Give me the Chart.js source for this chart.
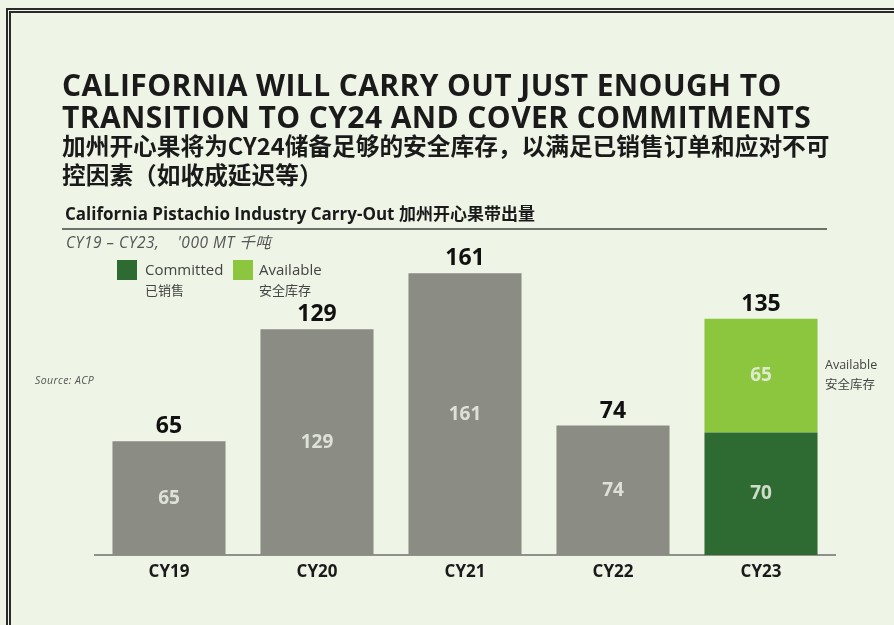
<!DOCTYPE html>
<html>
<head>
<meta charset="utf-8">
<script src="https://cdn.jsdelivr.net/npm/chart.js@4.4.1/dist/chart.umd.min.js"></script>
<style>
  html, body { margin: 0; padding: 0; }
  body { width: 894px; height: 625px; overflow: hidden; background: #eef4e6; position: relative; font-family: "Open Sans", "Noto Sans CJK SC", sans-serif; color: #1a1a1a; }
  .frame { position: absolute; left: 6px; top: 8px; width: 1000px; height: 800px; border-left: 5px double #2a2a2a; border-top: 5px double #2a2a2a; }
  .t { position: absolute; white-space: nowrap; line-height: 1; }
  .title { font-weight: 700; font-size: 30px; letter-spacing: 0.4px; left: 62px; }
  .zh { font-family: "Noto Sans CJK SC", sans-serif; font-weight: 700; font-size: 23.7px; left: 62px; }
  .sub { left: 65px; top: 204px; font-size: 17px; font-weight: 700; }
  .sub span { font-family: "Noto Sans CJK SC", sans-serif; }
  .rule { position: absolute; left: 62px; top: 228px; width: 765px; height: 2px; background: #6f716b; }
  .unit { left: 66px; top: 235px; font-size: 15.5px; letter-spacing: 0.5px; font-style: italic; color: #555; }
  .sw { position: absolute; width: 20px; height: 20px; top: 260px; }
  .leg { font-size: 15px; color: #444; line-height: 20px; }
  .leg .zh2 { font-family: "Noto Sans CJK SC", sans-serif; font-size: 13px; }
  .src { left: 35px; top: 375px; font-size: 10.5px; letter-spacing: 0.4px; font-style: italic; color: #555; }
  .note { left: 825px; top: 355px; font-size: 12.5px; color: #444; line-height: 19px; }
  canvas { position: absolute; left: 0; top: 0; }
</style>
</head>
<body>
<div class="frame"></div>
<canvas id="myChart" width="894" height="625"></canvas>

<div class="t title" style="top:70px">CALIFORNIA WILL CARRY OUT JUST ENOUGH TO</div>
<div class="t title" style="top:102px">TRANSITION TO CY24 AND COVER COMMITMENTS</div>
<div class="t zh" style="top:134px">加州开心果将为CY24储备足够的安全库存，以满足已销售订单和应对不可</div>
<div class="t zh" style="top:163px">控因素（如收成延迟等）</div>
<div class="t sub">California Pistachio Industry Carry-Out <span>加州开心果带出量</span></div>
<div class="rule"></div>
<div class="t unit">CY19 – CY23,&nbsp;&nbsp;&nbsp;&nbsp;'000 MT 千吨</div>

<div class="sw" style="left:117px; background:#2e6b32"></div>
<div class="t leg" style="left:145px; top:259px">Committed<br><span class="zh2">已销售</span></div>
<div class="sw" style="left:233px; background:#8cc63f"></div>
<div class="t leg" style="left:259px; top:259px">Available<br><span class="zh2">安全库存</span></div>

<div class="t src">Source: ACP</div>
<div class="t note">Available<br><span style="font-family:'Noto Sans CJK SC'">安全库存</span></div>

<script>
// chart data
const years = ['CY19', 'CY20', 'CY21', 'CY22', 'CY23'];
const carryOut = [65, 129, 161, 74, null];
const committed = [null, null, null, null, 70];
const available = [null, null, null, null, 65];

const grayBar = '#8b8d85';
const darkGreen = '#2e6b32';
const lightGreen = '#8cc63f';

// draws the white numbers inside bars and the totals on top
const barLabels = {
    id: 'barLabels',
    afterDatasetsDraw(chart) {
        const ctx = chart.ctx;
        ctx.save();
        ctx.textAlign = 'center';
        let tops = [];
        chart.data.datasets.forEach((ds, i) => {
            const meta = chart.getDatasetMeta(i);
            meta.data.forEach((bar, j) => {
                const v = ds.data[j];
                if (v == null) return;
                ctx.font = 'bold 19px "Open Sans"';
                ctx.fillStyle = 'rgba(236, 240, 230, 0.85)';
                ctx.textBaseline = 'middle';
                ctx.fillText(v, bar.x, (bar.y + bar.base) / 2);
                if (tops[j] == null || bar.y < tops[j].y) tops[j] = { x: bar.x, y: bar.y };
            });
        });
        years.forEach((y, j) => {
            const total = (carryOut[j] || 0) + (committed[j] || 0) + (available[j] || 0);
            ctx.font = 'bold 23px "Open Sans"';
            ctx.fillStyle = '#111';
            ctx.textBaseline = 'alphabetic';
            ctx.fillText(total, tops[j].x, tops[j].y - 8);
        });
        ctx.restore();
    }
};

const ctx = document.getElementById('myChart').getContext('2d');
const myChart = new Chart(ctx, {
    type: 'bar',
    data: {
        labels: years,
        datasets: [
            { label: 'Carry-Out', data: carryOut, backgroundColor: grayBar },
            { label: 'Committed 已销售', data: committed, backgroundColor: darkGreen },
            { label: 'Available 安全库存', data: available, backgroundColor: lightGreen }
        ]
    },
    options: {
        responsive: false,
        animation: false,
        devicePixelRatio: 1,
        layout: { padding: { left: 95, right: 59, top: 240, bottom: 0 } },
        datasets: { bar: { categoryPercentage: 1, barPercentage: 0.764 } },
        plugins: { legend: { display: false }, tooltip: { enabled: false } },
        scales: {
            x: {
                stacked: true,
                grid: { display: false, drawTicks: false },
                border: { display: true, color: '#8f918b', width: 2 },
                ticks: { color: '#1a1a1a', font: { family: 'Open Sans', weight: 'bold', size: 17 }, padding: 7 },
                afterFit: function(scale) { scale.height = 70; }
            },
            y: {
                stacked: true,
                display: false,
                min: 0,
                max: 180
            }
        }
    },
    plugins: [barLabels]
});
</script>
</body>
</html>
